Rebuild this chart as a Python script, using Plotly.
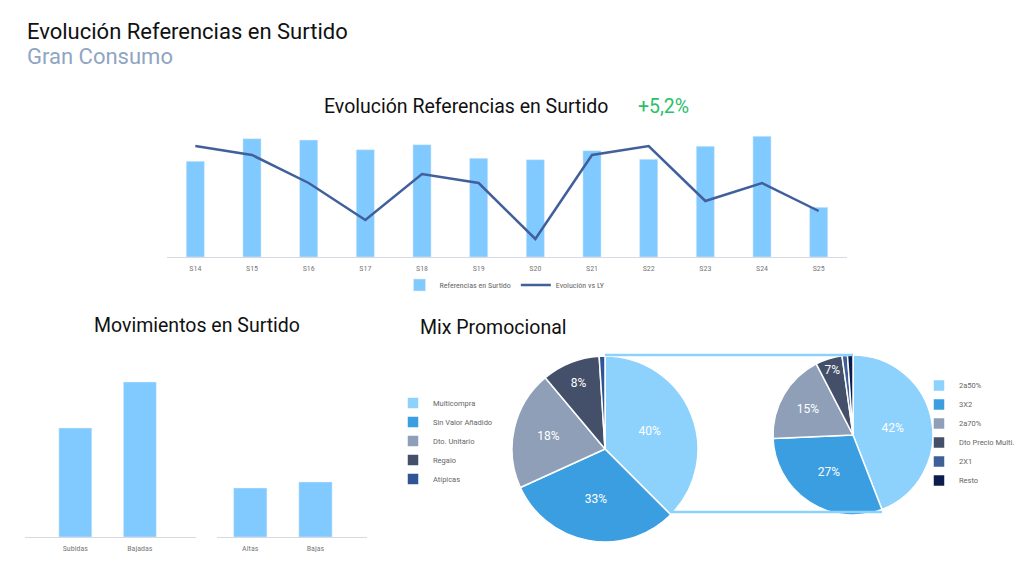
import plotly.graph_objects as go

# ---- data ----
weeks = ["S14", "S15", "S16", "S17", "S18", "S19", "S20", "S21", "S22", "S23", "S24", "S25"]
referencias = [957, 1183, 1170, 1073, 1123, 987, 973, 1063, 977, 1107, 1207, 497]
evolucion_ly = [5.1, 4.2, 1.4, -2.3, 2.3, 1.4, -4.2, 4.2, 5.1, -0.4, 1.4, -1.4]

mov_labels = ["Subidas", "Bajadas"]
mov_values = [109, 155]
alta_labels = ["Altas", "Bajas"]
alta_values = [49, 55]

mix_labels = ["Multicompra", "Sin Valor Añadido", "Dto. Unitario", "Regalo", "Atípicas"]
mix_values = [37.5, 30.7, 20.7, 10.1, 1.0]
mix_text = ["40%", "33%", "18%", "8%", ""]

multi_labels = ["2a50%", "3X2", "2a70%", "Dto Precio Multi.", "2X1", "Resto"]
multi_values = [44.1, 30.2, 18.1, 5.4, 1.1, 1.1]
multi_text = ["42%", "27%", "15%", "7%", "", ""]

BAR = "#80caff"
LINE = "#41609b"
AXIS = "#d9d9e3"
TICK = "#7a7a7a"
FONT = "Roboto, sans-serif"
NARROW = "Liberation Sans Narrow, Roboto Condensed, Roboto, sans-serif"
MIX_COLORS = ["#8dd1fd", "#3b9ee0", "#8f9fb8", "#44506a", "#2f5597"]
MULTI_COLORS = ["#8dd1fd", "#3b9ee0", "#8f9fb8", "#44506a", "#3f5f99", "#0c1d4d"]

# the page body keeps its default 8px margin, so the figure is 8px smaller
# and every layout position below is given in window pixels
OFF = 8
W, H = 1024 - OFF, 576 - OFF


def px(x):
    return (x - OFF) / W


def py(y):
    return 1 - (y - OFF) / H


fig = go.Figure()

# top chart: bars + line on a hidden secondary axis
fig.add_trace(go.Bar(
    x=weeks, y=referencias, name="Referencias en Surtido",
    marker=dict(color=BAR), xaxis="x", yaxis="y", legend="legend",
))
fig.add_trace(go.Scatter(
    x=weeks, y=evolucion_ly, name="Evolución vs LY", mode="lines",
    line=dict(color=LINE, width=2.5), xaxis="x", yaxis="y2", legend="legend",
))

# bottom left: movements
fig.add_trace(go.Bar(
    x=mov_labels, y=mov_values, marker=dict(color=BAR), width=0.51,
    xaxis="x3", yaxis="y3", showlegend=False,
))
fig.add_trace(go.Bar(
    x=alta_labels, y=alta_values, marker=dict(color=BAR), width=0.51,
    xaxis="x4", yaxis="y4", showlegend=False,
))

# pie of pie
fig.add_trace(go.Pie(
    labels=mix_labels, values=mix_values, text=mix_text, textinfo="text",
    textposition="inside", insidetextorientation="horizontal",
    sort=False, direction="clockwise", rotation=0,
    marker=dict(colors=MIX_COLORS, line=dict(color="white", width=1.5)),
    textfont=dict(color="white", size=12, family=FONT),
    domain=dict(x=[px(512), px(698)], y=[py(542), py(356)]),
    legend="legend2", hoverinfo="label+percent",
))
fig.add_trace(go.Pie(
    labels=multi_labels, values=multi_values, text=multi_text, textinfo="text",
    textposition="inside", insidetextorientation="horizontal",
    sort=False, direction="clockwise", rotation=0,
    marker=dict(colors=MULTI_COLORS, line=dict(color="white", width=1.5)),
    textfont=dict(color="white", size=12, family=FONT),
    domain=dict(x=[px(773), px(933)], y=[py(515), py(355)]),
    legend="legend3", hoverinfo="label+percent",
))

hidden_y = dict(visible=False, showgrid=False, zeroline=False)
cat_x = dict(showgrid=False, zeroline=False, showline=True, linecolor=AXIS, linewidth=1,
             ticks="", ticklabelstandoff=3,
             tickfont=dict(family=NARROW, size=8, color=TICK), fixedrange=True)

fig.update_layout(
    width=W, height=H,
    margin=dict(l=0, r=0, t=0, b=0),
    paper_bgcolor="white", plot_bgcolor="white",
    font=dict(family=FONT, color="#222222"),
    bargap=0.68,
    xaxis=dict(cat_x, domain=[px(167), px(847)], anchor="y"),
    yaxis=dict(hidden_y, domain=[py(257), py(127)], range=[0, 1300]),
    yaxis2=dict(hidden_y, overlaying="y", range=[-6, 7]),
    xaxis3=dict(cat_x, domain=[px(25), px(196)], anchor="y3", range=[-0.78, 1.87]),
    yaxis3=dict(hidden_y, domain=[py(537), py(357)], anchor="x3", range=[0, 180]),
    xaxis4=dict(cat_x, domain=[px(217), px(367)], anchor="y4", range=[-0.51, 1.79]),
    yaxis4=dict(hidden_y, domain=[py(537), py(357)], anchor="x4", range=[0, 180]),
    legend=dict(
        orientation="h", x=px(505), xanchor="center", y=py(285), yanchor="middle",
        font=dict(family=NARROW, size=8, color="#666666"), bgcolor="rgba(0,0,0,0)",
        itemwidth=30,
    ),
    legend2=dict(
        x=px(393), xanchor="left", y=py(441), yanchor="middle",
        font=dict(family=FONT, size=7.5, color="#666666"), bgcolor="rgba(0,0,0,0)",
        itemwidth=30,
    ),
    legend3=dict(
        x=px(919), xanchor="left", y=py(433), yanchor="middle",
        font=dict(family=FONT, size=7.5, color="#666666"), bgcolor="rgba(0,0,0,0)",
        itemwidth=30,
    ),
    shapes=[
        # connectors between the two pies
        dict(type="line", xref="paper", yref="paper", x0=px(605), x1=px(853),
             y0=py(355), y1=py(355), line=dict(color="#8dd1fd", width=2.5)),
        dict(type="line", xref="paper", yref="paper", x0=px(670), x1=px(882),
             y0=py(512), y1=py(512), line=dict(color="#8dd1fd", width=2.5)),
    ],
    annotations=[
        dict(text="Evolución Referencias en Surtido", x=px(25), y=py(31), xref="paper", yref="paper",
             xanchor="left", yanchor="middle", showarrow=False, font=dict(size=22, color="#111111")),
        dict(text="Gran Consumo", x=px(25), y=py(57), xref="paper", yref="paper",
             xanchor="left", yanchor="middle", showarrow=False, font=dict(size=22, color="#8fa5c4")),
        dict(text="Evolución Referencias en Surtido", x=px(322), y=py(107), xref="paper", yref="paper",
             xanchor="left", yanchor="middle", showarrow=False, font=dict(size=19.5, color="#111111")),
        dict(text="+5,2%", x=px(636), y=py(107), xref="paper", yref="paper",
             xanchor="left", yanchor="middle", showarrow=False, font=dict(size=19.5, color="#2bbf6a")),
        dict(text="Movimientos en Surtido", x=px(92), y=py(325), xref="paper", yref="paper",
             xanchor="left", yanchor="middle", showarrow=False, font=dict(size=19.5, color="#111111")),
        dict(text="Mix Promocional", x=px(418), y=py(327), xref="paper", yref="paper",
             xanchor="left", yanchor="middle", showarrow=False, font=dict(size=19.5, color="#111111")),
    ],
)

fig.write_html("out.html")
